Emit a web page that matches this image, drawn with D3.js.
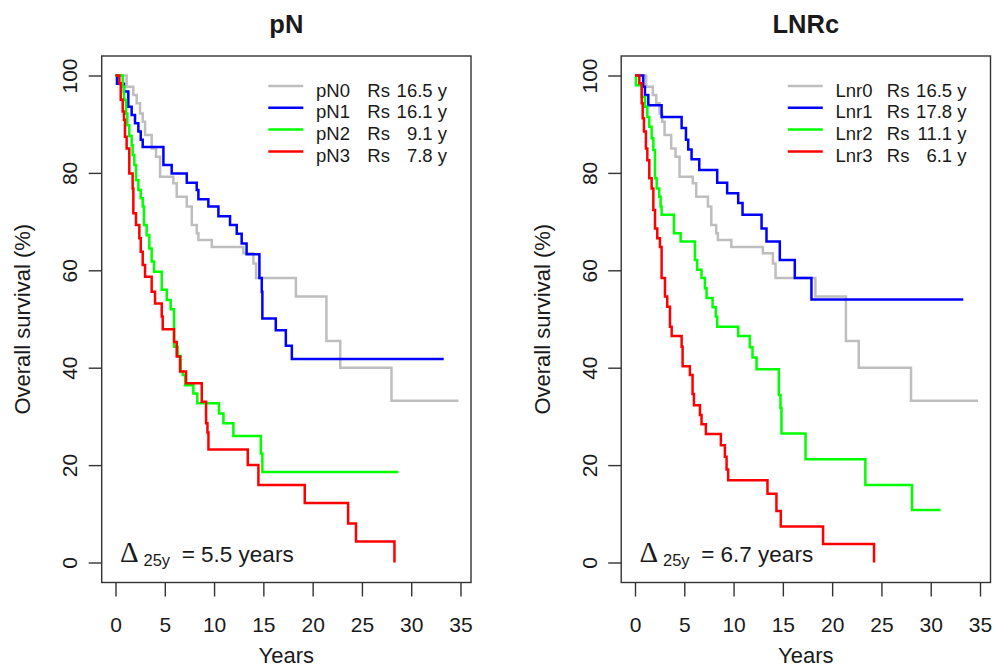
<!DOCTYPE html>
<html>
<head>
<meta charset="utf-8">
<script src="https://cdn.jsdelivr.net/npm/d3@7"></script>
<style>
  body { margin: 0; background: #fff; }
  text { font-family: "Liberation Sans", Arial, sans-serif; fill: #1a1a1a; }
</style>
</head>
<body>
<svg id="chart" width="994" height="669"></svg>
<script>
// ---- data (years, % survival after each step) ----
var pN0Times = [0, 1.13, 1.81, 2.15, 2.49, 2.76, 3.0, 3.67, 4.11, 4.52, 5.87, 6.21, 7.23, 7.74, 8.24, 8.41, 9.77, 12.97, 13.99, 14.26, 18.3, 21.4, 22.8, 28.0, 34.8];
var pN0Surv  = [100, 97.7, 96.0, 94.3, 92.2, 90.5, 87.8, 85.0, 83.3, 79.2, 77.9, 75.1, 73.1, 69.3, 67.6, 66.2, 64.8, 63.5, 61.4, 58.4, 54.6, 45.5, 40.0, 33.2, 33.2];

var pN1Times = [0, 0.15, 0.86, 1.30, 1.64, 1.98, 2.32, 2.56, 2.76, 4.86, 5.70, 7.23, 8.24, 8.41, 9.42, 10.44, 11.62, 12.3, 12.8, 13.3, 14.6, 14.84, 14.9, 16.26, 17.28, 17.89, 33.3];
var pN1Surv  = [100, 98.3, 96.7, 93.6, 91.9, 90.2, 88.5, 86.8, 85.3, 81.6, 79.9, 78.0, 76.5, 74.6, 73.1, 71.1, 69.3, 67.5, 65.5, 63.3, 58.4, 55.6, 50.1, 47.7, 44.5, 41.8, 41.8];

var pN2Times = [0, 0.73, 0.86, 1.07, 1.20, 1.40, 1.64, 1.74, 1.91, 2.08, 2.32, 2.56, 2.76, 2.89, 3.16, 3.43, 3.67, 3.91, 4.69, 5.2, 5.6, 5.94, 6.31, 6.61, 6.82, 7.06, 7.9, 8.3, 10.5, 10.95, 11.96, 14.74, 14.9, 28.7];
var pN2Surv  = [100, 97.7, 95.0, 92.2, 89.8, 87.6, 85.7, 83.7, 81.6, 78.5, 76.5, 74.8, 73.1, 69.3, 67.2, 64.5, 61.8, 59.7, 56.0, 53.9, 52.0, 44.3, 42.4, 39.2, 38.5, 36.4, 34.7, 32.7, 30.6, 28.6, 26.0, 22.4, 18.6, 18.6];

var pN3Times = [0, 0.39, 0.53, 0.73, 0.86, 0.96, 1.13, 1.40, 1.74, 1.81, 2.08, 2.42, 2.56, 2.76, 3.0, 3.67, 4.01, 4.69, 4.79, 5.94, 6.21, 6.55, 7.16, 8.75, 9.19, 9.33, 9.43, 13.42, 14.5, 19.2, 23.6, 24.4, 28.3];
var pN3Surv  = [100, 98.4, 95.0, 92.6, 90.9, 87.4, 85.0, 79.9, 76.8, 71.7, 69.3, 66.6, 63.8, 61.1, 58.7, 55.6, 53.2, 50.5, 47.9, 45.3, 42.3, 39.2, 36.8, 33.0, 28.6, 26.7, 23.2, 20.0, 15.9, 12.2, 8.0, 4.3, 0];

var lnr0Times = [0, 1.13, 1.81, 2.15, 2.49, 2.76, 3.0, 3.67, 4.11, 4.52, 5.87, 6.21, 7.4, 7.74, 8.24, 8.41, 9.77, 12.97, 13.99, 14.26, 18.3, 21.4, 22.7, 28.0, 34.8];
var lnr0Surv  = [100, 97.7, 96.0, 94.3, 92.2, 90.5, 87.8, 85.0, 83.3, 79.2, 77.9, 75.1, 73.1, 69.3, 67.6, 66.2, 64.8, 63.5, 61.4, 58.4, 54.6, 45.5, 40.0, 33.2, 33.2];

var lnr1Times = [0, 0.84, 1.01, 1.35, 2.7, 4.73, 5.17, 5.4, 5.74, 6.52, 8.34, 9.35, 10.47, 10.91, 12.84, 13.34, 14.69, 16.21, 17.9, 33.3];
var lnr1Surv  = [100, 97.7, 96.0, 93.9, 91.5, 89.2, 86.8, 84.8, 82.8, 80.6, 78.0, 75.8, 73.8, 71.4, 68.6, 65.9, 62.1, 58.4, 54.0, 54.0];

var lnr2Times = [0, 0.1, 0.68, 1.01, 1.25, 1.45, 1.69, 1.86, 2.03, 2.2, 2.46, 2.6, 2.7, 3.95, 4.63, 6.08, 6.31, 6.75, 7.09, 7.26, 7.87, 8.2, 8.34, 10.47, 11.65, 11.92, 12.33, 14.59, 14.76, 14.86, 17.3, 23.37, 28.1, 31.0];
var lnr2Surv  = [100, 98.0, 95.6, 93.6, 91.5, 89.5, 87.1, 84.7, 78.9, 76.8, 75.1, 73.1, 71.4, 67.6, 65.9, 62.1, 60.1, 58.4, 56.3, 54.3, 52.4, 50.5, 48.4, 46.5, 44.2, 42.1, 39.7, 34.4, 31.7, 26.5, 21.2, 15.9, 10.8, 10.8];

var lnr3Times = [0, 0.44, 0.68, 0.78, 0.91, 1.11, 1.25, 1.45, 1.69, 1.86, 2.03, 2.26, 2.53, 2.7, 3.04, 3.27, 3.55, 3.72, 4.73, 4.83, 5.57, 5.84, 5.98, 6.59, 6.75, 7.19, 8.71, 9.12, 9.29, 9.45, 13.44, 14.35, 14.79, 19.08, 24.25];
var lnr3Surv  = [100, 98.4, 94.3, 91.2, 88.5, 85.0, 82.6, 78.9, 76.8, 72.4, 68.6, 66.6, 64.8, 58.4, 54.6, 52.5, 48.4, 46.5, 44.3, 40.3, 38.5, 34.6, 32.3, 30.3, 28.4, 26.4, 24.1, 21.7, 19.1, 16.9, 14.1, 10.6, 7.4, 3.8, 0];

var pnNames  = ["pN0", "pN1", "pN2", "pN3"];
var pnRs     = ["16.5", "16.1", "9.1", "7.8"];
var lnrNames = ["Lnr0", "Lnr1", "Lnr2", "Lnr3"];
var lnrRs    = ["16.5", "17.8", "11.1", "6.1"];

var xTicks = [0, 5, 10, 15, 20, 25, 30, 35];
var yTicks = [0, 20, 40, 60, 80, 100];
var colors = ["#bebebe", "#0000ff", "#00ff00", "#ff0000"];

var panels = [
  { title: "pN", offset: 0, names: pnNames, rs: pnRs, delta: "5.5",
    series: [[pN0Times, pN0Surv], [pN1Times, pN1Surv], [pN2Times, pN2Surv], [pN3Times, pN3Surv]] },
  { title: "LNRc", offset: 519.5, names: lnrNames, rs: lnrRs, delta: "6.7",
    series: [[lnr0Times, lnr0Surv], [lnr1Times, lnr1Surv], [lnr2Times, lnr2Surv], [lnr3Times, lnr3Surv]] }
];

// ---- layout ----
var box = { left: 101.7, right: 471, top: 56, bottom: 582.5 };

var x = d3.scaleLinear().domain([0, 35]).range([115.5, 460.5]);
var y = d3.scaleLinear().domain([0, 100]).range([562.5, 75.5]);

var svg = d3.select("#chart");

var line = d3.line()
  .x(d => x(d[0]))
  .y(d => y(d[1]))
  .curve(d3.curveStepAfter);

panels.forEach(function(p) {
  var g = svg.append("g").attr("transform", `translate(${p.offset},0)`);

  // curves
  p.series.forEach(function(s, i) {
    var pts = s[0].map((t, j) => [t, s[1][j]]);
    g.append("path")
      .attr("d", line(pts))
      .attr("fill", "none")
      .attr("stroke", colors[i])
      .attr("stroke-width", 2.5);
  });

  // box
  g.append("rect")
    .attr("x", box.left).attr("y", box.top)
    .attr("width", box.right - box.left).attr("height", box.bottom - box.top)
    .attr("fill", "none").attr("stroke", "#333").attr("stroke-width", 1.4);

  // x axis
  var xa = g.append("g")
    .attr("transform", `translate(0,${box.bottom})`)
    .call(d3.axisBottom(x).tickValues(xTicks).tickSize(14).tickPadding(21));
  xa.select(".domain").remove();
  xa.selectAll(".tick line").attr("stroke", "#333").attr("stroke-width", 1.4);
  xa.selectAll("text").attr("font-size", 21).attr("fill", "#1a1a1a")
    .style("font-family", '"Liberation Sans", Arial, sans-serif');

  // y axis
  var ya = g.append("g")
    .attr("transform", `translate(${box.left},0)`)
    .call(d3.axisLeft(y).tickValues(yTicks).tickSize(13));
  ya.select(".domain").remove();
  ya.selectAll(".tick line").attr("stroke", "#333").attr("stroke-width", 1.4);
  ya.selectAll("text")
    .attr("x", null).attr("dy", null)
    .attr("transform", "translate(-24.7,0) rotate(-90)")
    .attr("text-anchor", "middle")
    .attr("font-size", 21).attr("fill", "#1a1a1a")
    .style("font-family", '"Liberation Sans", Arial, sans-serif');

  // titles and axis labels
  g.append("text")
    .attr("x", (box.left + box.right) / 2).attr("y", 33)
    .attr("text-anchor", "middle")
    .attr("font-size", 25.5).attr("font-weight", "bold")
    .attr("fill", "#000")
    .text(p.title);

  g.append("text")
    .attr("x", (box.left + box.right) / 2).attr("y", 663)
    .attr("text-anchor", "middle")
    .attr("font-size", 22)
    .text("Years");

  g.append("text")
    .attr("transform", `translate(30,${(box.top + box.bottom) / 2}) rotate(-90)`)
    .attr("text-anchor", "middle")
    .attr("font-size", 22)
    .text("Overall survival (%)");

  // legend
  p.names.forEach(function(name, i) {
    var ly = 86 + i * 21.8;
    g.append("line")
      .attr("x1", 268.3).attr("x2", 303.3)
      .attr("y1", ly).attr("y2", ly)
      .attr("stroke", colors[i]).attr("stroke-width", 2.5);
    g.append("text").attr("x", 316).attr("y", ly + 10.5)
      .attr("font-size", 18.5).text(name);
    g.append("text").attr("x", 367.3).attr("y", ly + 10.5)
      .attr("font-size", 18.5).text("Rs");
    g.append("text").attr("x", 447).attr("y", ly + 10.5)
      .attr("text-anchor", "end")
      .attr("font-size", 18.5).text(p.rs[i] + " y");
  });

  // delta annotation
  g.append("text").attr("x", 120).attr("y", 561.7)
    .attr("font-size", 29)
    .style("font-family", '"Liberation Serif", "Times New Roman", serif')
    .attr("fill", "#000")
    .text("\u0394");
  g.append("text").attr("x", 143.5).attr("y", 565.5)
    .attr("font-size", 16.5)
    .text("25y");
  g.append("text").attr("x", 181.7).attr("y", 561.7)
    .attr("font-size", 22.5)
    .text("= " + p.delta + " years");
});
</script>
</body>
</html>
